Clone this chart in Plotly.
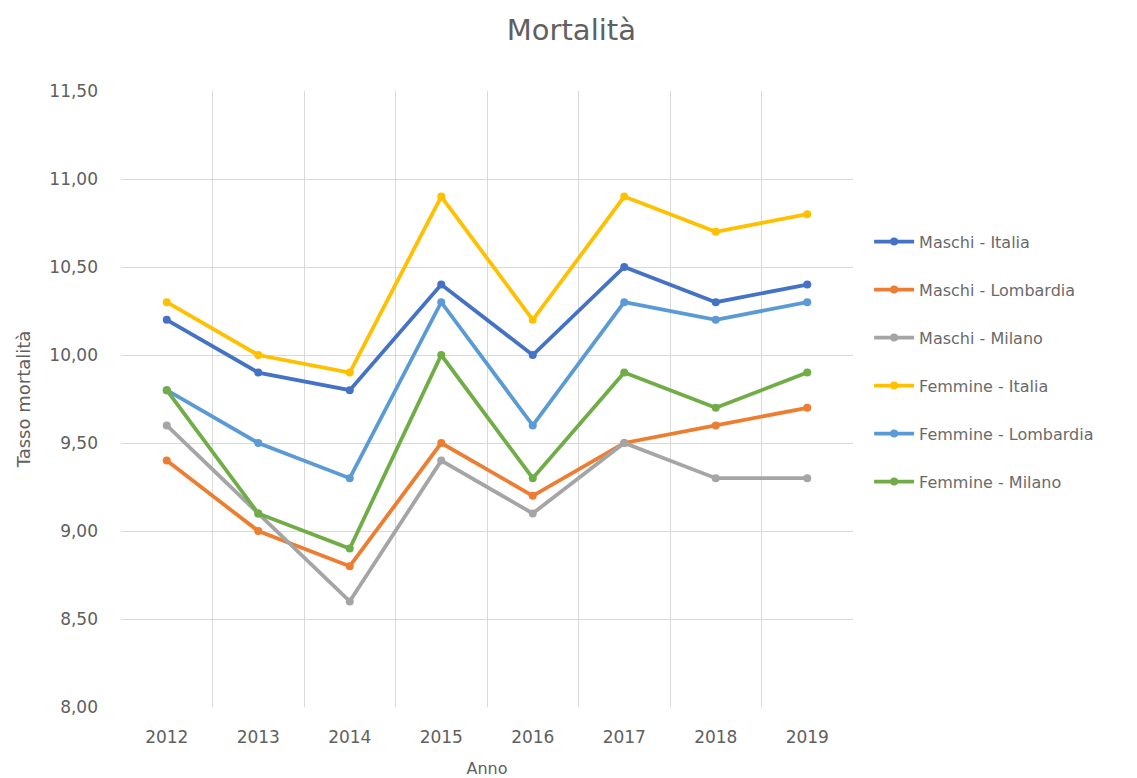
import plotly.graph_objects as go

anni = ["2012", "2013", "2014", "2015", "2016", "2017", "2018", "2019"]
maschi_italia = [10.2, 9.9, 9.8, 10.4, 10.0, 10.5, 10.3, 10.4]
maschi_lombardia = [9.4, 9.0, 8.8, 9.5, 9.2, 9.5, 9.6, 9.7]
maschi_milano = [9.6, 9.1, 8.6, 9.4, 9.1, 9.5, 9.3, 9.3]
femmine_italia = [10.3, 10.0, 9.9, 10.9, 10.2, 10.9, 10.7, 10.8]
femmine_lombardia = [9.8, 9.5, 9.3, 10.3, 9.6, 10.3, 10.2, 10.3]
femmine_milano = [9.8, 9.1, 8.9, 10.0, 9.3, 9.9, 9.7, 9.9]
y_ticks = [8.0, 8.5, 9.0, 9.5, 10.0, 10.5, 11.0, 11.5]

series = [
    ("Maschi - Italia", maschi_italia, "#4472C4"),
    ("Maschi - Lombardia", maschi_lombardia, "#ED7D31"),
    ("Maschi - Milano", maschi_milano, "#A5A5A5"),
    ("Femmine - Italia", femmine_italia, "#FFC000"),
    ("Femmine - Lombardia", femmine_lombardia, "#5B9BD5"),
    ("Femmine - Milano", femmine_milano, "#70AD47"),
]

xpos = list(range(len(anni)))
fig = go.Figure()
for i, (name, vals, col) in enumerate(series):
    fig.add_trace(go.Scatter(
        x=xpos, y=vals, name=name, mode="lines+markers",
        line=dict(color=col, width=3.8),
        marker=dict(color=col, size=8, symbol="circle"),
        legendgroup=f"g{i}",
    ))

gray = "#606060"
font_fam = "DejaVu Sans, Open Sans, sans-serif"
fig.update_layout(
    width=1129, height=770,
    paper_bgcolor="white", plot_bgcolor="white",
    separators=",.",
    font=dict(family=font_fam, color=gray, size=15),
    title=dict(text="Mortalità", x=0.499, xanchor="center", y=0.971, yanchor="middle",
               font=dict(size=29, color=gray)),
    margin=dict(l=113, r=284, t=83, b=71),
    showlegend=True,
    legend=dict(x=1.022, xanchor="left", y=0.783, yanchor="top",
                tracegroupgap=24.2, font=dict(size=16, color="#6a6a6a"),
                bgcolor="rgba(0,0,0,0)", itemwidth=40),
    xaxis=dict(
        range=[-0.5, len(anni) - 0.5],
        tickmode="array", tickvals=xpos, ticktext=anni,
        showgrid=False, zeroline=False,
        showline=False,
        ticks="",
        automargin=False,
        ticklabelstandoff=18,
        tickfont=dict(size=17, color=gray),
        minor=dict(tickvals=[k - 0.5 for k in range(len(anni) + 1)],
                   showgrid=True, gridcolor="#D9D9D9", gridwidth=1, ticks=""),
        title=dict(text="Anno", font=dict(size=16, color=gray), standoff=17),
    ),
    yaxis=dict(
        range=[8.0, 11.5],
        tickmode="array", tickvals=y_ticks, tickformat=".2f",
        showgrid=True, gridcolor="#D9D9D9", gridwidth=1,
        zeroline=False, showline=False,
        automargin=False,
        tickfont=dict(size=17, color=gray),
        ticks="", ticklen=0,
        ticklabelstandoff=22,
        title=dict(text="Tasso mortalità", font=dict(size=18, color=gray), standoff=14),
    ),
)

fig.write_html("out.html")
